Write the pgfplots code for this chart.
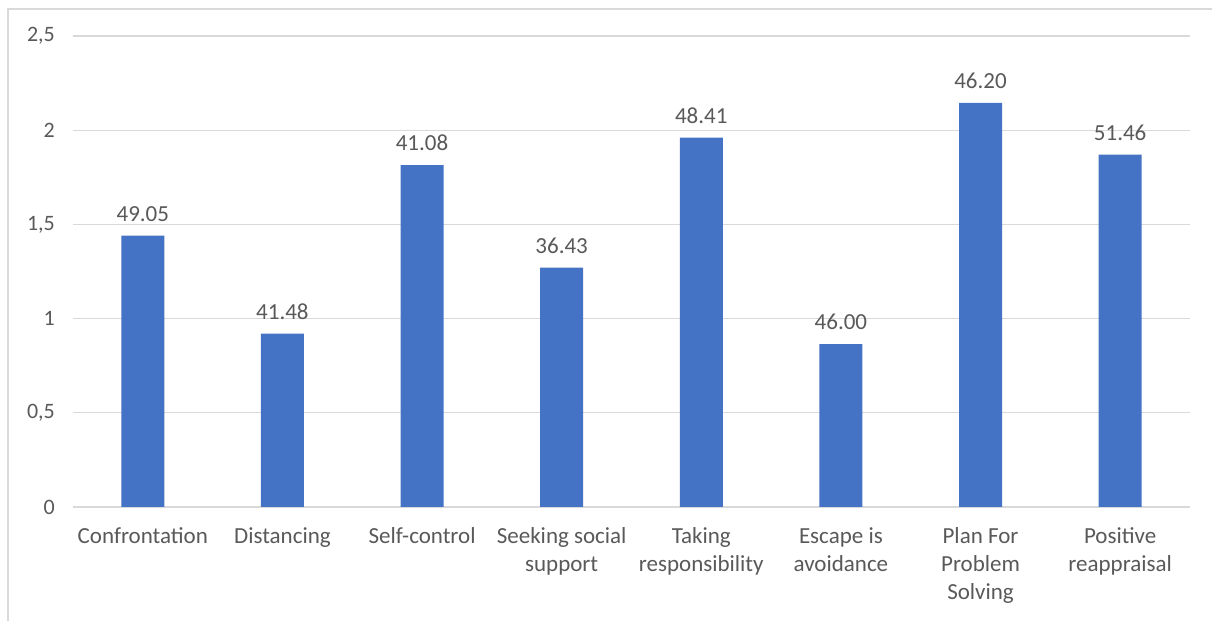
\documentclass[border=0pt]{standalone}
\usepackage{pgfplots}
\pgfplotsset{compat=1.18}
\usepackage{fontspec}
\setmainfont{Carlito}
\definecolor{barblue}{HTML}{4472C4}
\definecolor{txt}{HTML}{595959}
\definecolor{gridc}{HTML}{D9D9D9}
\begin{document}
\begin{tikzpicture}[x=1pt,y=1pt]
\path[use as bounding box] (0,0) rectangle (1212,621);
\draw[gridc, line width=1.5pt] (8,0) -- (8,612) -- (1212,612);
\begin{axis}[
  at={(73pt,114pt)}, anchor=south west,
  width=1117pt, height=471pt, scale only axis,
  xmin=-0.5, xmax=7.5, ymin=0, ymax=2.5,
  axis line style={draw=none},
  major tick length=0pt,
  ymajorgrids, grid style={gridc, line width=1.3pt},
  ytick={0,0.5,1,1.5,2,2.5},
  yticklabels={0,{0,5},1,{1,5},2,{2,5}},
  xtick={0,1,2,3,4,5,6,7},
  xticklabels={
    {\strut Confrontation},
    {\strut Distancing},
    {\strut Self-control},
    {\strut Seeking social\\support},
    {\strut Taking\\responsibility},
    {\strut Escape is\\avoidance},
    {\strut Plan For\\Problem\\Solving},
    {\strut Positive\\reappraisal}},
  xticklabel style={font=\fontsize{23}{28}\selectfont, text=txt, align=center, inner sep=0pt, anchor=north, yshift=-17pt},
  yticklabel style={font=\fontsize{22}{26}\selectfont, text=txt, anchor=east, inner sep=0pt, xshift=-18pt},
  ybar, bar width=43pt,
  point meta=explicit symbolic,
  nodes near coords={\pgfplotspointmeta},
  every node near coord/.append style={font=\fontsize{23}{26}\selectfont, text=txt, anchor=south, inner sep=0pt, yshift=14pt},
]
\addplot[fill=barblue, draw=none] table[meta=label] {
x y label
0 1.44 49.05
1 0.92 41.48
2 1.815 41.08
3 1.27 36.43
4 1.96 48.41
5 0.865 46.00
6 2.145 46.20
7 1.87 51.46
};
\end{axis}
\end{tikzpicture}
\end{document}
